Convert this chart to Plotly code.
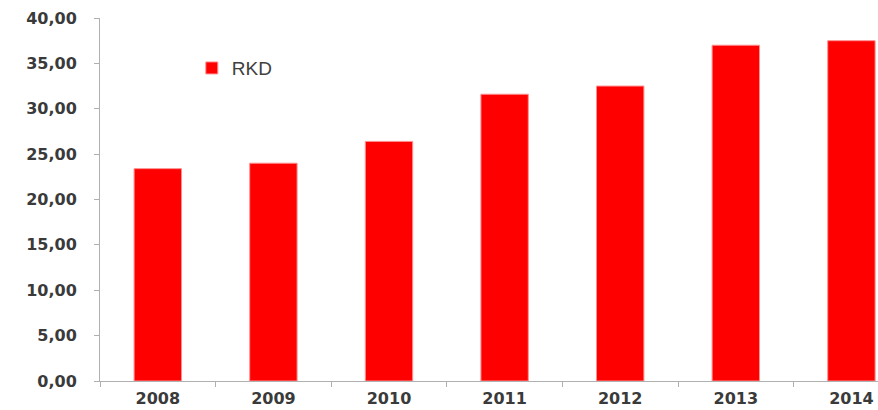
import plotly.graph_objects as go

years = ["2008", "2009", "2010", "2011", "2012", "2013", "2014"]
rkd = [23.4, 24.0, 26.4, 31.6, 32.5, 37.0, 37.5]
y_ticks = [0, 5, 10, 15, 20, 25, 30, 35, 40]

fig = go.Figure()
fig.add_trace(go.Bar(
    x=years, y=rkd, name="RKD",
    marker=dict(color="#ff0000", line=dict(color="#ff9090", width=1)),
    width=0.41,
))

tick_font = dict(family="DejaVu Sans", size=16, color="#3a3a3a", weight="bold")

fig.update_layout(
    width=878, height=410,
    margin=dict(l=100, r=0, t=18, b=29),
    paper_bgcolor="white", plot_bgcolor="white",
    separators=",.",
    showlegend=True,
    legend=dict(x=0.118, y=0.862, xanchor="left", yanchor="middle",
                bgcolor="rgba(0,0,0,0)",
                font=dict(family="Liberation Sans", size=19, color="#404040")),
    xaxis=dict(
        type="category", range=[-0.5, 6.23], automargin=False,
        showline=True, linecolor="#b0b0b0", linewidth=1,
        ticks="outside", tickson="boundaries", ticklen=5, tickcolor="#b0b0b0",
        tickfont=tick_font, showgrid=False, ticklabelstandoff=3,
    ),
    yaxis=dict(
        range=[0, 40], tickvals=y_ticks, tickformat=".2f", automargin=False,
        showline=True, linecolor="#b0b0b0", linewidth=1,
        ticks="outside", ticklen=5, tickcolor="#b0b0b0",
        tickfont=tick_font, showgrid=False, zeroline=False,
        ticklabelstandoff=14,
    ),
)

fig.write_html("out.html")
